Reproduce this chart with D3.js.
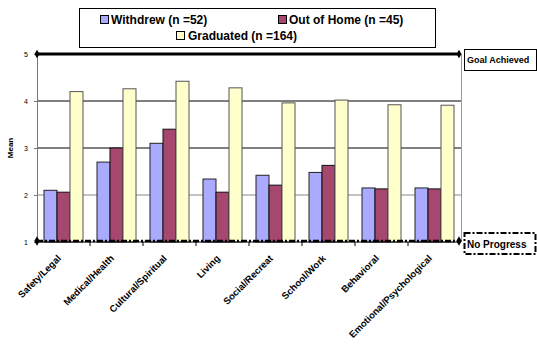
<!DOCTYPE html>
<html><head><meta charset="utf-8">
<script src="https://cdn.jsdelivr.net/npm/d3@7/dist/d3.min.js"></script>
<style>body{margin:0;background:#fff;}svg{display:block;font-family:"Liberation Sans",Arial,sans-serif;}</style>
</head><body>
<script>
const categories = ["Safety/Legal","Medical/Health","Cultural/Spiritual","Living","Social/Recreat","School/Work","Behavioral","Emotional/Psychological"];
const seriesNames = ["Withdrew (n =52)","Out of Home (n =45)","Graduated (n =164)"];
const withdrew   = [2.10, 2.70, 3.10, 2.34, 2.42, 2.48, 2.15, 2.15];
const outOfHome  = [2.06, 3.00, 3.40, 2.06, 2.21, 2.63, 2.13, 2.13];
const graduated  = [4.20, 4.26, 4.42, 4.28, 3.96, 4.02, 3.92, 3.91];
const yTicks = [1,2,3,4,5];
const colors = ["#aaaaff","#a5476f","#ffffcc"];
const strokes = ["#222","#111","#555"];

const W=537,H=344;
const svg=d3.select("body").append("svg").attr("width",W).attr("height",H);
const L=37,R=461,T=54,B=242;
const y=d3.scaleLinear().domain([1,5]).range([B,T]);
const x0=d3.scaleBand().domain(categories).range([L,R]);
const x1=d3.scaleBand().domain([0,1,2]).range([7,46]);
const series=[withdrew,outOfHome,graduated];

// gridlines
svg.append("g").selectAll("line").data([2,3,4]).join("line")
  .attr("x1",L).attr("x2",R).attr("y1",d=>y(d)).attr("y2",d=>y(d))
  .attr("stroke",d=>d===2?"#888":"#000").attr("stroke-width",1);

// plot right border
svg.append("line").attr("x1",R+0.5).attr("x2",R+0.5).attr("y1",T).attr("y2",B).attr("stroke","#999");

// bars
const g=svg.append("g");
categories.forEach((c,i)=>{
  series.forEach((s,j)=>{
    g.append("rect").attr("x",x0(c)+x1(j)).attr("width",x1.bandwidth())
      .attr("y",y(s[i])).attr("height",y(1)-y(s[i]))
      .attr("fill",colors[j]).attr("stroke",strokes[j]).attr("stroke-width",1);
  });
});

// left axis
const ya=svg.append("g").attr("transform",`translate(${L},0)`).call(d3.axisLeft(y).tickValues(yTicks).tickSize(3).tickFormat(d3.format("d")));
ya.select(".domain").attr("stroke","#777");
ya.selectAll(".tick line").attr("stroke","#777");
ya.selectAll("text").attr("font-size",7).attr("font-family","Liberation Sans, Arial").attr("fill","#000").attr("dx",-3);

// bottom axis
const xa=svg.append("g").attr("transform",`translate(0,${B})`);
xa.append("line").attr("x1",L).attr("x2",R).attr("stroke","#000");
xa.selectAll(".tk").data(categories.slice(1)).join("line").attr("class","tk")
  .attr("x1",d=>x0(d)).attr("x2",d=>x0(d)).attr("y1",0).attr("y2",4).attr("stroke","#000");
xa.selectAll("text").data(categories).join("text")
  .attr("transform",d=>`translate(${x0(d)+x0.bandwidth()/2-2},${17}) rotate(-45)`)
  .attr("text-anchor","end").attr("font-size",9.5).attr("font-weight","bold").text(d=>d);

// goal line at 5
svg.append("line").attr("x1",L).attr("x2",R-2).attr("y1",y(5)).attr("y2",y(5)).attr("stroke","#000").attr("stroke-width",3);
[L,R-2].forEach(px=>svg.append("path").attr("d",d3.symbol(d3.symbolDiamond,22)()).attr("transform",`translate(${px},${y(5)})`).attr("fill","#000"));
// no progress line at 1
svg.append("line").attr("x1",L).attr("x2",R-2).attr("y1",y(1)-1).attr("y2",y(1)-1).attr("stroke","#000").attr("stroke-width",2.5).attr("stroke-dasharray","6,2,2,2");
[L,R-2].forEach(px=>svg.append("path").attr("d",d3.symbol(d3.symbolDiamond,26)()).attr("transform",`translate(${px},${y(1)-1})`).attr("fill","#000"));

// y label
svg.append("text").attr("transform",`translate(13,${(T+B)/2}) rotate(-90)`).attr("text-anchor","middle")
  .attr("font-size",8).attr("font-weight","bold").text("Mean");

// legend
svg.append("rect").attr("x",79.5).attr("y",8.5).attr("width",356).attr("height",39).attr("fill","#fff").attr("stroke","#000");
const legPos=[[100,15,111,24],[278,15,289,24],[176,31,188,40]];
seriesNames.forEach((n,j)=>{
  const p=legPos[j];
  svg.append("rect").attr("x",p[0]+0.5).attr("y",p[1]+0.5).attr("width",8).attr("height",8).attr("fill",colors[j]).attr("stroke","#000");
  svg.append("text").attr("x",p[2]).attr("y",p[3]).attr("font-size",12).attr("font-weight","bold").text(n);
});

// Goal Achieved box
svg.append("rect").attr("x",464.5).attr("y",49.5).attr("width",72).attr("height",21).attr("fill","#fff").attr("stroke","#000");
svg.append("text").attr("x",467).attr("y",63).attr("font-size",9).attr("font-weight","bold").text("Goal Achieved");
// No Progress box
svg.append("rect").attr("x",464.5).attr("y",233).attr("width",71).attr("height",21).attr("fill","#fff").attr("stroke","#000").attr("stroke-width",2).attr("stroke-dasharray","6,2,2,2");
svg.append("text").attr("x",467).attr("y",248).attr("font-size",10).attr("font-weight","bold").text("No Progress");
</script>
</body></html>
